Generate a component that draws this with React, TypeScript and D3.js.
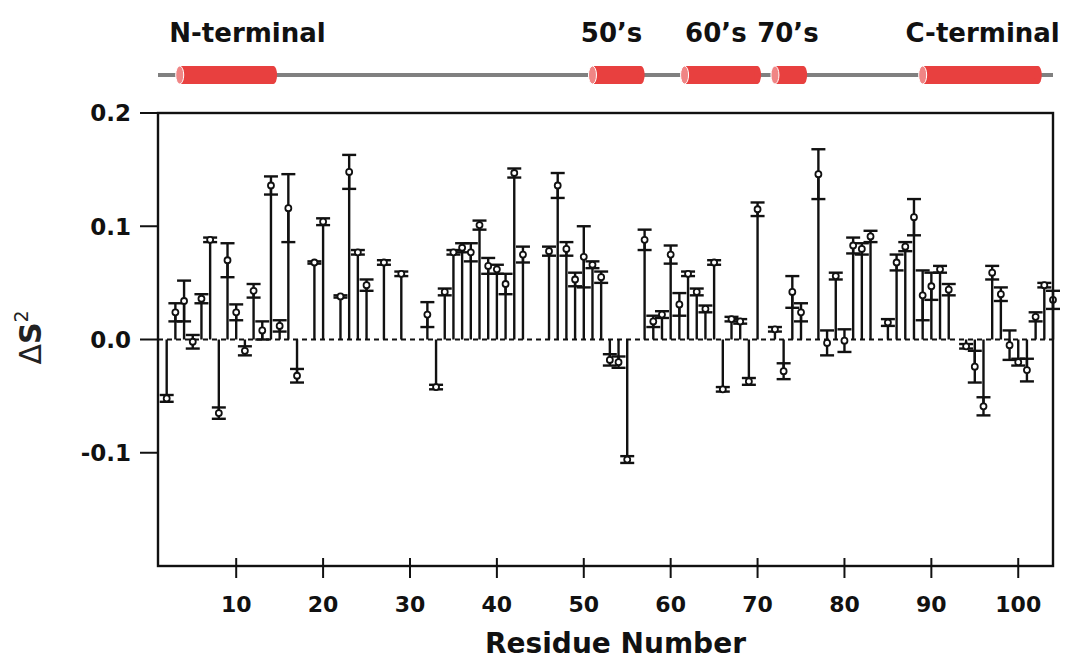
import React, { useEffect, useRef } from 'react';
import * as d3 from 'd3';

// residues that have a measured value (gaps are prolines / unassigned)
const residues = [
  2, 3, 4, 5, 6, 7, 8, 9, 10, 11, 12, 13, 14, 15, 16, 17, 19, 20, 22, 23,
  24, 25, 27, 29, 32, 33, 34, 35, 36, 37, 38, 39, 40, 41, 42, 43, 46, 47, 48, 49,
  50, 51, 52, 53, 54, 55, 57, 58, 59, 60, 61, 62, 63, 64, 65, 66, 67, 68, 69, 70,
  72, 73, 74, 75, 77, 78, 79, 80, 81, 82, 83, 85, 86, 87, 88, 89, 90, 91, 92, 94,
  95, 96, 97, 98, 99, 100, 101, 102, 103, 104,
];
const deltaS2 = [
  -0.052, 0.024, 0.034, -0.002, 0.036, 0.088, -0.065, 0.07, 0.024, -0.01, 0.043, 0.008, 0.136, 0.012, 0.116, -0.032, 0.068, 0.104, 0.038, 0.148,
  0.077, 0.048, 0.068, 0.058, 0.022, -0.042, 0.042, 0.077, 0.081, 0.077, 0.101, 0.065, 0.062, 0.049, 0.147, 0.075, 0.078, 0.136, 0.08, 0.053,
  0.073, 0.066, 0.055, -0.018, -0.02, -0.106, 0.088, 0.016, 0.022, 0.075, 0.031, 0.058, 0.042, 0.027, 0.068, -0.044, 0.018, 0.016, -0.037, 0.115,
  0.009, -0.028, 0.042, 0.024, 0.146, -0.003, 0.056, -0.001, 0.083, 0.08, 0.091, 0.015, 0.068, 0.082, 0.108, 0.039, 0.047, 0.062, 0.044, -0.006,
  -0.024, -0.059, 0.059, 0.04, -0.005, -0.02, -0.027, 0.02, 0.048, 0.035,
];
const errors = [
  0.003, 0.008, 0.018, 0.006, 0.004, 0.002, 0.005, 0.015, 0.007, 0.004, 0.006, 0.008, 0.008, 0.005, 0.03, 0.006, 0.001, 0.003, 0.001, 0.015,
  0.002, 0.005, 0.002, 0.002, 0.011, 0.002, 0.003, 0.002, 0.004, 0.008, 0.004, 0.007, 0.004, 0.009, 0.004, 0.007, 0.004, 0.011, 0.006, 0.006,
  0.027, 0.003, 0.005, 0.005, 0.005, 0.003, 0.009, 0.005, 0.003, 0.008, 0.01, 0.002, 0.003, 0.003, 0.002, 0.002, 0.002, 0.002, 0.003, 0.006,
  0.002, 0.007, 0.014, 0.008, 0.022, 0.011, 0.003, 0.01, 0.007, 0.005, 0.005, 0.003, 0.007, 0.004, 0.016, 0.022, 0.012, 0.003, 0.005, 0.002,
  0.014, 0.008, 0.006, 0.006, 0.013, 0.003, 0.01, 0.004, 0.002, 0.008,
];

const yTicks = [0.2, 0.1, 0.0, -0.1];
const xTicks = [10, 20, 30, 40, 50, 60, 70, 80, 90, 100];

// secondary structure (helices) along the sequence
const helixNames = ['N-terminal', '50\u2019s', '60\u2019s', '70\u2019s', 'C-terminal'];
const helixStart = [3.5, 51, 61.6, 72, 89];
const helixEnd = [14.3, 56.6, 70, 75.3, 102.3];
const helixLabelAt = [11.3, 53.2, 65.2, 73.5, 95.9];

const W = 1069;
const H = 664;
const FONT = '"DejaVu Sans", Verdana, sans-serif';
const INK = '#111';

// hyphen minus like the original, not the unicode minus d3 uses
const fmtY = (t: number) => (t < 0 ? '-' : '') + Math.abs(t).toFixed(1);

const OrderChart = () => {
  const svgRef = useRef(null);

  useEffect(() => {
    const svg = d3.select(svgRef.current);
    svg.selectAll('*').remove();

    const x = d3.scaleLinear().domain([1, 104]).range([158, 1053]);
    const y = d3.scaleLinear().domain([-0.2, 0.2]).range([566, 113]);
    const [x0, x1] = x.range();
    const [yb, yt] = y.range();

    const data = residues.map((r, i) => ({ r, v: deltaS2[i], e: errors[i] }));

    // ---- header: sequence line + helices
    const head = svg.append('g');
    head.append('line')
      .attr('x1', x0).attr('x2', x1).attr('y1', 75).attr('y2', 75)
      .attr('stroke', '#808080').attr('stroke-width', 4);

    helixNames.forEach((name, i) => {
      const xs = x(helixStart[i]);
      const xe = x(helixEnd[i]);
      head.append('rect')
        .attr('x', xs).attr('y', 66).attr('width', xe - xs).attr('height', 18)
        .attr('fill', '#e8403f');
      head.append('ellipse')
        .attr('cx', xe).attr('cy', 75).attr('rx', 3.5).attr('ry', 9)
        .attr('fill', '#e8403f');
      head.append('ellipse')
        .attr('cx', xs).attr('cy', 75).attr('rx', 4).attr('ry', 9)
        .attr('fill', '#f08585').attr('stroke', '#fff').attr('stroke-width', 1);
      head.append('text')
        .attr('x', x(helixLabelAt[i])).attr('y', 42)
        .attr('text-anchor', 'middle')
        .attr('font-family', FONT).attr('font-weight', 'bold').attr('font-size', 26)
        .attr('fill', INK)
        .text(name);
    });

    // ---- zero line (dashed)
    svg.append('line')
      .attr('x1', x0).attr('x2', x1).attr('y1', y(0)).attr('y2', y(0))
      .attr('stroke', INK).attr('stroke-width', 2).attr('stroke-dasharray', '5,4');

    const marks = svg.append('g').attr('stroke', INK).attr('stroke-width', 2.4);

    // sticks to zero
    marks.selectAll('line.stick').data(data).enter().append('line')
      .attr('class', 'stick')
      .attr('x1', (d) => x(d.r)).attr('x2', (d) => x(d.r))
      .attr('y1', y(0)).attr('y2', (d) => y(d.v));

    // error bars
    marks.selectAll('line.err').data(data).enter().append('line')
      .attr('class', 'err')
      .attr('x1', (d) => x(d.r)).attr('x2', (d) => x(d.r))
      .attr('y1', (d) => y(d.v - d.e)).attr('y2', (d) => y(d.v + d.e));

    const cap = 7;
    [1, -1].forEach((s) => {
      marks.selectAll(`line.cap${s}`).data(data).enter().append('line')
        .attr('class', `cap${s}`)
        .attr('x1', (d) => x(d.r) - cap).attr('x2', (d) => x(d.r) + cap)
        .attr('y1', (d) => y(d.v + s * d.e)).attr('y2', (d) => y(d.v + s * d.e));
    });

    // markers
    marks.selectAll('circle').data(data).enter().append('circle')
      .attr('cx', (d) => x(d.r)).attr('cy', (d) => y(d.v))
      .attr('r', 3)
      .attr('fill', '#fff').attr('stroke-width', 1.8);

    // ---- frame
    svg.append('rect')
      .attr('x', x0).attr('y', yt).attr('width', x1 - x0).attr('height', yb - yt)
      .attr('fill', 'none').attr('stroke', INK).attr('stroke-width', 2.4);

    // ---- y axis
    const yAxis = svg.append('g');
    yTicks.forEach((t) => {
      yAxis.append('line')
        .attr('x1', x0 - 18).attr('x2', x0).attr('y1', y(t)).attr('y2', y(t))
        .attr('stroke', INK).attr('stroke-width', 2);
      yAxis.append('text')
        .attr('x', x0 - 27).attr('y', y(t)).attr('dy', '0.36em')
        .attr('text-anchor', 'end')
        .attr('font-family', FONT).attr('font-weight', 'bold').attr('font-size', 23)
        .attr('fill', INK)
        .text(fmtY(t));
    });

    // ---- x axis
    const xAxis = svg.append('g');
    xTicks.forEach((t) => {
      xAxis.append('line')
        .attr('x1', x(t)).attr('x2', x(t)).attr('y1', yb - 8).attr('y2', yb + 12)
        .attr('stroke', INK).attr('stroke-width', 2);
      xAxis.append('text')
        .attr('x', x(t)).attr('y', yb + 46)
        .attr('text-anchor', 'middle')
        .attr('font-family', FONT).attr('font-weight', 'bold').attr('font-size', 22)
        .attr('fill', INK)
        .text(t);
    });

    svg.append('text')
      .attr('x', (x0 + x1) / 2 + 10).attr('y', 653)
      .attr('text-anchor', 'middle')
      .attr('font-family', FONT).attr('font-weight', 'bold').attr('font-size', 28)
      .attr('fill', INK)
      .text('Residue Number');

    // y label: ΔS²
    const yl = svg.append('text')
      .attr('transform', `translate(41, ${y(0) - 2}) rotate(-90)`)
      .attr('text-anchor', 'middle')
      .attr('font-family', FONT).attr('font-size', 30)
      .attr('fill', '#222');
    yl.append('tspan').text('\u0394');
    yl.append('tspan').attr('font-weight', 'bold').text('S');
    yl.append('tspan').attr('font-size', 19).attr('dy', -13).text('2');
  }, []);

  return (
    <svg
      ref={svgRef}
      width={W}
      height={H}
      style={{ position: 'absolute', left: 0, top: 0, background: '#fff' }}
    />
  );
};

const App = () => <OrderChart />;

export default App;
